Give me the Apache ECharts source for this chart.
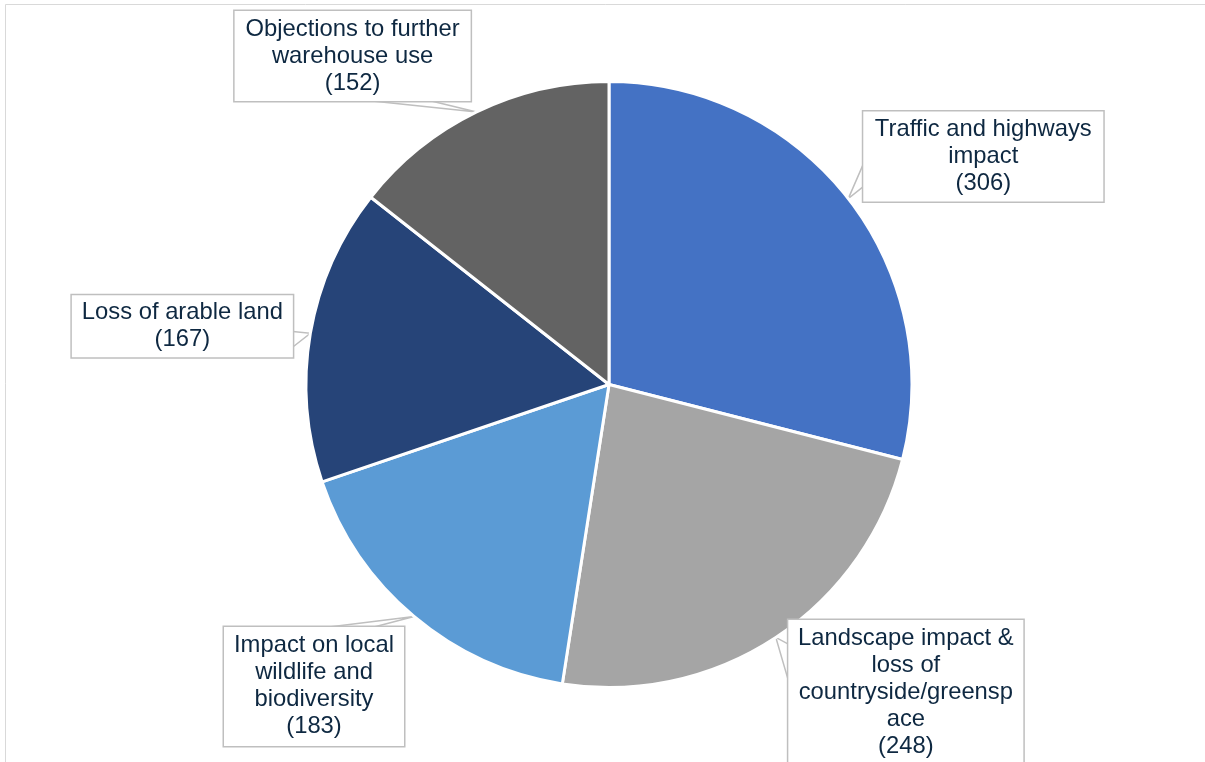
<!DOCTYPE html>
<html>
<head>
<meta charset="utf-8">
<script src="https://cdn.jsdelivr.net/npm/echarts@6/dist/echarts.min.js"></script>
<style>
  html, body { margin: 0; padding: 0; background: #fff; }
  #chart { width: 1205px; height: 762px; }
</style>
</head>
<body>
<div id="chart"></div>
<script>
// Objection themes and number of responses raising each one
const categories = [
  'Traffic and highways\nimpact',
  'Landscape impact &\nloss of\ncountryside/greensp\nace',
  'Impact on local\nwildlife and\nbiodiversity',
  'Loss of arable land',
  'Objections to further\nwarehouse use'
];
const responses = [306, 248, 183, 167, 152];
const sliceColors = ['#4472C4', '#A5A5A5', '#5B9BD5', '#264478', '#636363'];

// Callout boxes: size, and offset of box centre from the slice's label anchor
const callouts = [
  { w: 240, h: 90,  dx: 135,  dy: -42 },
  { w: 235, h: 145, dx: 130,  dy: 55 },
  { w: 180, h: 119, dx: -100, dy: 70 },
  { w: 221, h: 62,  dx: -128, dy: -7 },
  { w: 236, h: 90,  dx: -124, dy: -56 }
];

const LINE_H = 27;
const BORDER = '#BFBFBF';

const data = categories.map((name, i) => {
  const lines = name.split('\n').length + 1;
  const padV = Math.max(0, (callouts[i].h - lines * LINE_H) / 2);
  return {
    name,
    value: responses[i],
    itemStyle: { color: sliceColors[i] },
    label: { width: callouts[i].w, padding: [padV, 0, padV, 0] }
  };
});

// Speech-bubble wedge: base sits on the box side facing the tip,
// spanning 2/12..5/12 or 7/12..10/12 of that side
function calloutLayout(params) {
  const c = callouts[params.dataIndex];
  const pts = params.labelLinePoints;
  if (!pts) return {};
  const tip = pts[0];
  const cx = tip[0] + c.dx, cy = tip[1] + c.dy;
  const left = cx - c.w / 2, top = cy - c.h / 2;
  const rx = (tip[0] - cx) / c.w, ry = (tip[1] - cy) / c.h;
  let p1, p2;
  if (Math.abs(rx) > Math.abs(ry)) {
    const x = rx < 0 ? left : left + c.w;
    const f = ry < 0 ? [2, 5] : [7, 10];
    p1 = [x, top + c.h * f[0] / 12];
    p2 = [x, top + c.h * f[1] / 12];
  } else {
    const y = ry < 0 ? top : top + c.h;
    const f = rx < 0 ? [2, 5] : [7, 10];
    p1 = [left + c.w * f[0] / 12, y];
    p2 = [left + c.w * f[1] / 12, y];
  }
  return {
    x: cx, y: cy,
    align: 'center', verticalAlign: 'middle',
    labelLinePoints: [p1, tip, p2]
  };
}

const chart = echarts.init(document.getElementById('chart'), null, { renderer: 'canvas' });
chart.setOption({
  animation: false,
  backgroundColor: '#fff',
  graphic: [{
    type: 'rect',
    shape: { x: 5.5, y: 4.5, width: 1400, height: 1000 },
    style: { fill: null, stroke: '#D9D9D9', lineWidth: 1 },
    silent: true
  }],
  series: [{
    type: 'pie',
    center: [609, 384.5],
    radius: 303,
    startAngle: 90,
    clockwise: true,
    avoidLabelOverlap: false,
    itemStyle: { borderColor: '#FFFFFF', borderWidth: 3 },
    label: {
      show: true,
      position: 'outside',
      formatter: p => p.name + '\n(' + p.value + ')',
      fontFamily: '"Liberation Sans", Arial, sans-serif',
      fontSize: 23.8,
      lineHeight: LINE_H,
      color: '#0E2841',
      align: 'center',
      overflow: 'none',
      backgroundColor: '#FFFFFF',
      borderColor: BORDER,
      borderWidth: 1.5
    },
    labelLine: {
      show: true,
      smooth: false,
      lineStyle: { color: BORDER, width: 1.5 }
    },
    labelLayout: calloutLayout,
    emphasis: { disabled: true },
    data
  }]
});
</script>
</body>
</html>
